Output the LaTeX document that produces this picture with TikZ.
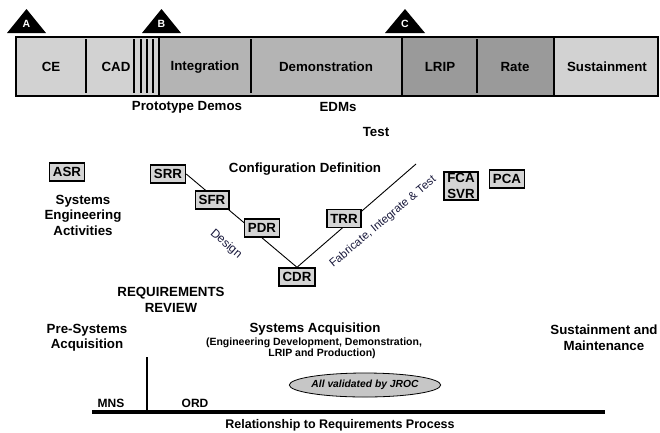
\documentclass[tikz,border=0pt]{standalone}
\usepackage{fontspec}
\setmainfont{Liberation Sans}
\usetikzlibrary{shapes.geometric}
\definecolor{barlight}{HTML}{D2D2D2}
\definecolor{barmid}{HTML}{B4B4B4}
\definecolor{bardark}{HTML}{9A9A9A}
\definecolor{boxfill}{HTML}{D4D4D4}
\definecolor{ellfill}{HTML}{C6C6C6}
\definecolor{navy}{RGB}{25,25,60}
\tikzset{
  lbl/.style={font=\fontsize{13.3}{15.5}\selectfont\bfseries, align=center, inner sep=0pt},
  sublbl/.style={font=\fontsize{10.5}{12}\selectfont\bfseries, align=center, inner sep=0pt},
  slant/.style={font=\fontsize{11.5}{13}\selectfont, text=navy, inner sep=0pt},
  rev/.style={draw=black, line width=1.4pt, fill=boxfill, font=\fontsize{13.3}{15.5}\selectfont\bfseries,
              align=center, inner xsep=3.5pt, inner ysep=2pt, minimum height=18pt},
  tri/.style={fill=black},
  trilbl/.style={text=white, font=\fontsize{10.5}{12}\selectfont\bfseries, inner sep=0pt},
  divider/.style={line width=1.3pt},
  vline/.style={line width=0.9pt},
}
\begin{document}
\begin{tikzpicture}[x=1pt,y=-1pt]
\useasboundingbox (0,0) rectangle (660,432);
% ---- top bar ----
\filldraw[fill=barlight, divider] (16,37) rectangle (159,96);
\filldraw[fill=barmid, divider] (159,37) rectangle (402,96);
\filldraw[fill=bardark, divider] (402,37) rectangle (554,96);
\filldraw[fill=barlight, divider] (554,37) rectangle (658,96);
\foreach \xx in {86,134,141,147,153,251,477}
  \draw[divider] (\xx,39) -- (\xx,93);
\node[lbl] (CE) at (51,67) {CE};
\node[lbl] (CAD) at (116,67) {CAD};
\node[lbl] (Int) at (205,67) {Integration};
\node[lbl] (Dem) at (326,67) {Demonstration};
\node[lbl] (LRIP) at (440,67) {LRIP};
\node[lbl] (Rate) at (515,67) {Rate};
\node[lbl] (Sus) at (607,67) {Sustainment};
% ---- milestone triangles ----
\fill[tri] (7,33) -- (46,33) -- (26.5,9) -- cycle;
\node[trilbl] (mA) at (26.5,24) {A};
\fill[tri] (142,33) -- (181,33) -- (161.5,9) -- cycle;
\node[trilbl] (mB) at (161.5,24) {B};
\fill[tri] (385,33) -- (425,33) -- (405,9) -- cycle;
\node[trilbl] (mC) at (405,24) {C};
% ---- labels under bar ----
\node[lbl] (proto) at (187,107) {Prototype Demos};
\node[lbl] (edm) at (338,107) {EDMs};
\node[lbl] (test) at (376,132) {Test};
\node[lbl] (conf) at (305,169) {Configuration Definition};
\node[lbl] (sea) at (83,215) {Systems\\Engineering\\Activities};
% ---- V diagram ----
\node[rev] (ASR) at (67,172) {ASR};
\node[rev] (SRR) at (168,174) {SRR};
\node[rev] (CDR) at (297,277) {CDR};
\coordinate (vend) at (416,164);
\draw[vline] (SRR.east) -- (CDR.north);
\draw[vline] (CDR.north) -- (vend);
\node[rev] (SFR) at (212,200) {SFR};
\node[rev] (PDR) at (262,228) {PDR};
\node[rev] (TRR) at (344,218.5) {TRR};
\node[rev, inner ysep=1.5pt] (FCA) at (461,186) {FCA\\SVR};
\node[rev] (PCA) at (507,179) {PCA};
\node[slant, font=\fontsize{12}{14}\selectfont, rotate=-41] (design) at (226,244) {Design};
\node[slant, rotate=40] (fit) at (383,222) {Fabricate, Integrate \& Test};
% ---- lower part ----
\node[lbl] (req) at (171,300) {REQUIREMENTS\\REVIEW};
\node[lbl] (pre) at (87,337.5) {Pre-Systems\\Acquisition};
\node[lbl] (sa) at (315,329) {Systems Acquisition};
\node[sublbl] (sa1) at (314,343) {(Engineering Development, Demonstration,};
\node[sublbl] (sa2) at (322,354) {LRIP and Production)};
\node[lbl] (sm) at (604,337.5) {Sustainment and\\Maintenance};
\coordinate (hl) at (92,412);
\coordinate (hr) at (605,412);
\coordinate (vt) at (147,357);
\coordinate (vb) at (147,412);
\draw[line width=3.2pt] (hl) -- (hr);
\draw[line width=2.8pt] (vt) -- (vb);
\node[sublbl, font=\fontsize{12}{14}\selectfont\bfseries] (mns) at (111,403) {MNS};
\node[sublbl, font=\fontsize{12}{14}\selectfont\bfseries] (ord) at (195,403) {ORD};
\node[ellipse, draw=black, line width=0.8pt, fill=ellfill, minimum width=124pt, minimum height=24pt, inner sep=0pt,
      font=\fontsize{10.3}{12}\selectfont\bfseries\itshape] (jroc) at (365,385) {All validated by JROC};
\node[lbl, font=\fontsize{12.5}{14}\selectfont\bfseries] (rel) at (340,425) {Relationship to Requirements Process};
\end{tikzpicture}
\end{document}
